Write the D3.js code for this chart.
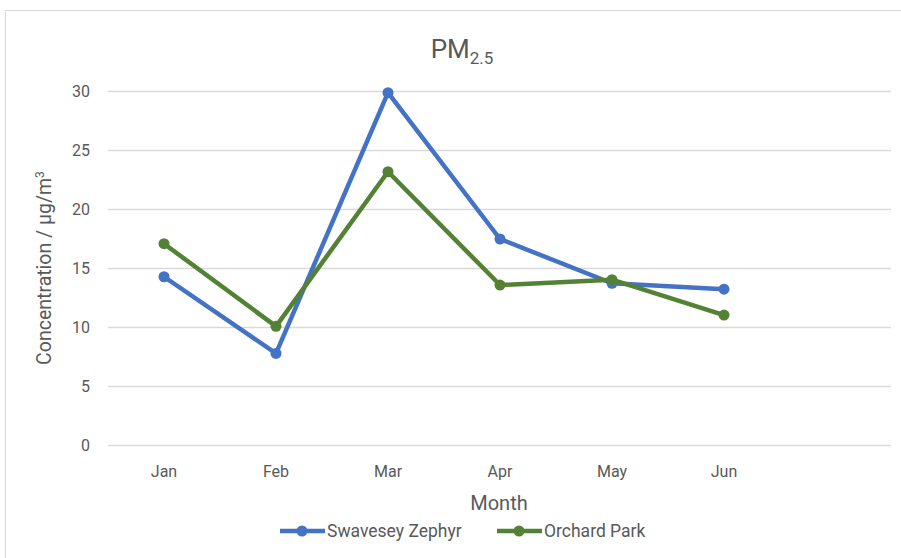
<!DOCTYPE html>
<html lang="en">
<head>
<meta charset="UTF-8">
<script src="https://d3js.org/d3.v7.min.js"></script>
<style>
  body { margin: 0; background: #fff; }
  text { font-family: "Roboto", sans-serif; fill: #595959; }
</style>
</head>
<body>
<script>
var width = 901, height = 558;

// data
var months = ["Jan", "Feb", "Mar", "Apr", "May", "Jun", ""];
var swavesey = [14.3, 7.8, 29.9, 17.5, 13.75, 13.25];
var orchard = [17.1, 10.1, 23.2, 13.6, 14.05, 11.05];
var yTicks = [0, 5, 10, 15, 20, 25, 30];
var seriesNames = ["Swavesey Zephyr", "Orchard Park"];
var colors = ["#4472C4", "#548235"];

var svg = d3.select("body").append("svg")
    .attr("width", width)
    .attr("height", height);

// chart frame
svg.append("rect")
    .attr("x", 5.5).attr("y", 10.5)
    .attr("width", 920).attr("height", 560)
    .attr("fill", "#fff")
    .attr("stroke", "#d9d9d9");

var x = d3.scaleBand().domain(months).range([108, 892]).padding(0);
var y = d3.scaleLinear().domain([0, 30]).range([445.5, 91.5]);

// gridlines
svg.append("g").selectAll("line")
    .data(yTicks)
    .join("line")
    .attr("x1", 108).attr("x2", 891)
    .attr("y1", d => y(d)).attr("y2", d => y(d))
    .attr("stroke", "#d9d9d9")
    .attr("stroke-width", 1.3);

// y tick labels
svg.append("g").selectAll("text")
    .data(yTicks)
    .join("text")
    .attr("x", 90)
    .attr("y", d => y(d))
    .attr("dy", "0.35em")
    .attr("text-anchor", "end")
    .attr("font-size", 16)
    .text(d => d);

// x tick labels
svg.append("g").selectAll("text")
    .data(months.filter(m => m))
    .join("text")
    .attr("x", d => x(d) + x.bandwidth() / 2)
    .attr("y", 477)
    .attr("text-anchor", "middle")
    .attr("font-size", 16)
    .text(d => d);

// title
var title = svg.append("text")
    .attr("x", 462).attr("y", 58)
    .attr("text-anchor", "middle")
    .attr("font-size", 26);
title.append("tspan").text("PM");
title.append("tspan").attr("font-size", 17).attr("dy", 6).text("2.5");

// axis titles
svg.append("text")
    .attr("x", 499).attr("y", 510)
    .attr("text-anchor", "middle")
    .attr("font-size", 20)
    .text("Month");

var yt = svg.append("text")
    .attr("transform", "translate(51,268) rotate(-90)")
    .attr("text-anchor", "middle")
    .attr("font-size", 19.5);
yt.append("tspan").text("Concentration / µg/m");
yt.append("tspan").attr("font-size", 12).attr("dy", -7).text("3");

// lines
var line = d3.line()
    .x((d, i) => x(months[i]) + x.bandwidth() / 2)
    .y(d => y(d));

[swavesey, orchard].forEach(function (vals, k) {
    var g = svg.append("g");
    g.append("path")
        .attr("d", line(vals))
        .attr("fill", "none")
        .attr("stroke", colors[k])
        .attr("stroke-width", 4.5)
        .attr("stroke-linejoin", "round");
    g.selectAll("circle")
        .data(vals)
        .join("circle")
        .attr("cx", (d, i) => x(months[i]) + x.bandwidth() / 2)
        .attr("cy", d => y(d))
        .attr("r", 5.5)
        .attr("fill", colors[k]);
});

// legend
var legendX = [280, 497];
seriesNames.forEach(function (name, k) {
    var lg = svg.append("g").attr("transform", "translate(" + legendX[k] + ",531)");
    lg.append("line")
        .attr("x1", 0).attr("x2", 45)
        .attr("stroke", colors[k])
        .attr("stroke-width", 4.5);
    lg.append("circle").attr("cx", 22).attr("r", 5.5).attr("fill", colors[k]);
    lg.append("text")
        .attr("x", 47).attr("dy", "0.35em")
        .attr("font-size", 17.5)
        .text(name);
});
</script>
</body>
</html>
